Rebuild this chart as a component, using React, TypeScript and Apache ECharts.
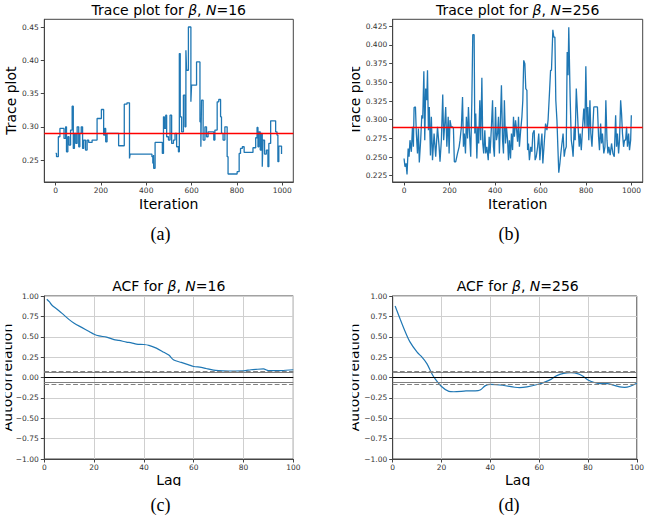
import React, { useEffect, useRef } from "react";
import * as echarts from "echarts";

// ---- Trace plot, N=16 (piecewise-constant chain: change points) ----
const traceAIter = [0, 4, 12, 19, 37, 44, 48, 54, 59, 66, 73, 78, 83, 89, 95, 102, 107, 113, 119, 124, 132, 139, 146, 161, 183, 202, 212, 217, 221, 227, 278, 303, 315, 326, 329, 425, 429, 432, 433, 439, 471, 476, 480, 486, 490, 498, 505, 512, 520, 527, 534, 542, 546, 550, 556, 564, 571, 575, 578, 586, 597, 600, 622, 637, 641, 644, 651, 659, 666, 673, 698, 703, 713, 720, 728, 732, 739, 747, 757, 761, 801, 810, 816, 824, 832, 871, 883, 889, 893, 897, 903, 908, 912, 915, 922, 930, 937, 941, 949, 971, 977, 981, 985, 997, 999];
const traceAVal = [0.26, 0.255, 0.285, 0.2975, 0.2825, 0.3, 0.2625, 0.285, 0.2725, 0.295, 0.331, 0.2675, 0.29, 0.275, 0.3, 0.27, 0.29, 0.3, 0.2675, 0.28, 0.265, 0.28, 0.2765, 0.28, 0.3125, 0.326, 0.2875, 0.2975, 0.2775, 0.29, 0.2715, 0.334, 0.336, 0.2525, 0.259, 0.255, 0.245, 0.2575, 0.2375, 0.2765, 0.26, 0.315, 0.2975, 0.3175, 0.285, 0.28, 0.3175, 0.275, 0.28, 0.29, 0.27, 0.2625, 0.41, 0.315, 0.2925, 0.3475, 0.3, 0.415, 0.385, 0.45, 0.3375, 0.3625, 0.3975, 0.3075, 0.27, 0.34, 0.28, 0.3, 0.285, 0.2925, 0.28, 0.295, 0.3375, 0.341, 0.315, 0.29, 0.28, 0.3, 0.255, 0.229, 0.2325, 0.26, 0.2675, 0.27, 0.2615, 0.2685, 0.2835, 0.299, 0.27, 0.2925, 0.265, 0.29, 0.24, 0.28, 0.259, 0.265, 0.24, 0.275, 0.309, 0.2925, 0.2875, 0.2475, 0.271, 0.259, 0.259];
const meanA = 0.2865;

// ---- Trace plot, N=256 ----
const traceBIter = [0, 4, 9, 13, 18, 22, 26, 32, 37, 41, 44, 50, 54, 59, 63, 67, 73, 78, 82, 87, 91, 95, 100, 103, 107, 111, 116, 120, 125, 132, 139, 147, 154, 158, 164, 170, 174, 179, 183, 188, 194, 198, 202, 207, 213, 217, 221, 227, 235, 242, 246, 252, 257, 261, 265, 270, 274, 279, 283, 287, 293, 298, 302, 308, 311, 315, 320, 324, 328, 333, 337, 342, 346, 350, 355, 359, 364, 370, 374, 378, 384, 389, 393, 397, 402, 406, 411, 415, 419, 424, 428, 433, 437, 441, 446, 450, 455, 459, 463, 468, 472, 477, 481, 485, 490, 494, 499, 503, 507, 512, 518, 522, 526, 531, 535, 540, 543, 547, 551, 557, 562, 566, 572, 576, 581, 587, 592, 597, 601, 606, 610, 616, 622, 628, 633, 639, 644, 648, 654, 658, 663, 667, 672, 676, 680, 685, 689, 694, 699, 704, 708, 713, 717, 721, 724, 727, 730, 735, 739, 743, 748, 752, 757, 761, 765, 770, 774, 779, 784, 790, 795, 799, 804, 808, 812, 817, 821, 826, 830, 834, 840, 846, 850, 855, 859, 864, 868, 872, 878, 883, 887, 892, 896, 900, 906, 912, 918, 924, 930, 934, 938, 943, 947, 952, 956, 960, 965, 969, 974, 978, 982, 987, 991, 996, 999];
const traceBVal = [0.2481, 0.237, 0.2415, 0.2268, 0.2615, 0.2504, 0.2726, 0.257, 0.2904, 0.2637, 0.3162, 0.3171, 0.2815, 0.2548, 0.2882, 0.2428, 0.2726, 0.306, 0.3015, 0.3647, 0.2726, 0.3416, 0.326, 0.3661, 0.286, 0.3171, 0.2521, 0.3038, 0.2459, 0.2815, 0.2504, 0.2904, 0.2637, 0.2437, 0.2726, 0.3336, 0.2726, 0.2949, 0.3171, 0.2637, 0.3038, 0.2548, 0.2993, 0.2904, 0.2904, 0.2882, 0.2437, 0.2437, 0.2548, 0.2637, 0.2726, 0.2904, 0.3305, 0.2637, 0.2815, 0.2548, 0.3038, 0.2748, 0.3171, 0.286, 0.2504, 0.326, 0.4137, 0.4137, 0.2815, 0.3082, 0.2481, 0.2904, 0.2682, 0.326, 0.2726, 0.3563, 0.2682, 0.2548, 0.286, 0.2548, 0.2637, 0.2459, 0.2771, 0.2548, 0.2904, 0.326, 0.2637, 0.2504, 0.3171, 0.2726, 0.2815, 0.3038, 0.2548, 0.3038, 0.346, 0.2726, 0.2548, 0.326, 0.2682, 0.2904, 0.2726, 0.2459, 0.2726, 0.2481, 0.2815, 0.2593, 0.3038, 0.2771, 0.2993, 0.2882, 0.2704, 0.3038, 0.2637, 0.2837, 0.3038, 0.326, 0.3794, 0.375, 0.3416, 0.3394, 0.2593, 0.2682, 0.2459, 0.2637, 0.257, 0.2815, 0.286, 0.2459, 0.2504, 0.2637, 0.2815, 0.2459, 0.2637, 0.2815, 0.2415, 0.2682, 0.2949, 0.286, 0.2993, 0.3349, 0.3661, 0.3661, 0.4204, 0.4106, 0.4106, 0.326, 0.2993, 0.2637, 0.229, 0.2415, 0.2548, 0.2682, 0.2815, 0.2504, 0.2593, 0.2637, 0.3905, 0.3594, 0.4239, 0.4239, 0.3305, 0.2726, 0.2637, 0.2504, 0.2904, 0.2726, 0.3416, 0.3171, 0.2904, 0.2637, 0.2815, 0.2593, 0.286, 0.315, 0.2904, 0.3714, 0.2904, 0.3171, 0.2726, 0.326, 0.2815, 0.2637, 0.2904, 0.3171, 0.3171, 0.3171, 0.3171, 0.2771, 0.2593, 0.2949, 0.2682, 0.2815, 0.2548, 0.2637, 0.326, 0.2726, 0.2548, 0.2637, 0.2526, 0.2682, 0.2548, 0.2504, 0.306, 0.2637, 0.2815, 0.2548, 0.2726, 0.326, 0.3082, 0.2815, 0.2637, 0.2726, 0.2726, 0.2904, 0.2637, 0.2815, 0.2593, 0.2726, 0.306];
const meanB = 0.2855;

// ---- ACF, N=16 ----
const acfLags16 = [1, 2, 3, 5, 7, 10, 12, 15, 18, 20, 22, 25, 28, 30, 33, 35, 37, 40, 42, 45, 48, 50, 52, 55, 58, 60, 63, 65, 68, 70, 75, 80, 83, 85, 88, 90, 95, 100];
const acf16 = [0.96, 0.93, 0.89, 0.84, 0.79, 0.71, 0.665, 0.615, 0.565, 0.53, 0.51, 0.495, 0.465, 0.455, 0.435, 0.425, 0.41, 0.405, 0.395, 0.36, 0.31, 0.275, 0.215, 0.185, 0.155, 0.135, 0.125, 0.11, 0.09, 0.085, 0.08, 0.082, 0.095, 0.1, 0.105, 0.085, 0.085, 0.095];

// ---- ACF, N=256 ----
const acfLags256 = [1, 3, 5, 7, 10, 12, 14, 16, 17, 20, 23, 25, 30, 35, 36, 38, 40, 45, 50, 52, 55, 60, 62, 65, 67, 70, 73, 76, 78, 80, 83, 85, 88, 90, 93, 95, 97, 100];
const acf256 = [0.877, 0.72, 0.57, 0.44, 0.31, 0.25, 0.17, 0.05, 0.0, -0.11, -0.17, -0.175, -0.165, -0.16, -0.15, -0.1, -0.085, -0.095, -0.12, -0.125, -0.115, -0.08, -0.06, -0.02, 0.02, 0.05, 0.058, 0.045, 0.015, -0.03, -0.065, -0.075, -0.075, -0.09, -0.115, -0.12, -0.11, -0.07];

// confidence bands (95% solid, 99% dashed)
const z95 = 0.062;
const z99 = 0.0815;

// tick labels
const traceXTicks = [0, 200, 400, 600, 800, 1000];
const traceATicks = [0.25, 0.3, 0.35, 0.4, 0.45];
const traceBTicks = [0.225, 0.25, 0.275, 0.3, 0.325, 0.35, 0.375, 0.4, 0.425];

const FONT = "DejaVu Sans";
const SERIF = "Liberation Serif";
const BLUE = "#1f77b4";
const SPINE = "#444";

const G = [
  { left: 44.3, top: 19.3, width: 249, height: 162.7 },
  { left: 392.7, top: 19.3, width: 250, height: 162.7 },
  { left: 44.3, top: 296, width: 249, height: 163 },
  { left: 392.7, top: 296, width: 250, height: 163 },
];

const tickLabel = { fontSize: 7.5, color: "#333", fontFamily: FONT };
const minusFmt = (d: number) => (v: number) => (v < 0 ? "\u2212" + Math.abs(v).toFixed(d) : v.toFixed(d));
const intFmt = (v: number) => String(Math.round(v));

function traceX(i: number) {
  return {
    gridIndex: i,
    type: "value",
    min: -49.95,
    max: 1048.95,
    axisLine: { show: true, onZero: false, lineStyle: { color: SPINE, width: 1 } },
    axisTick: { show: true, length: 3.5, lineStyle: { color: SPINE }, customValues: traceXTicks },
    axisLabel: { ...tickLabel, margin: 4, customValues: traceXTicks, formatter: intFmt },
    splitLine: { show: false },
  };
}
function traceY(i: number, min: number, max: number, ticks: number[], d: number) {
  return {
    gridIndex: i,
    type: "value",
    min,
    max,
    axisLine: { show: true, onZero: false, lineStyle: { color: SPINE, width: 1 } },
    axisTick: { show: true, length: 3.5, lineStyle: { color: SPINE }, customValues: ticks },
    axisLabel: { ...tickLabel, margin: 5.5, customValues: ticks, formatter: minusFmt(d) },
    splitLine: { show: false },
  };
}
const gridLine = { show: true, lineStyle: { color: "#cfcfcf", width: 1 } };
function acfX(i: number) {
  return {
    gridIndex: i,
    type: "value",
    min: 0,
    max: 100,
    interval: 20,
    axisLine: { show: true, onZero: false, lineStyle: { color: SPINE, width: 1 } },
    axisTick: { show: true, length: 3.5, lineStyle: { color: SPINE } },
    axisLabel: { ...tickLabel, margin: 4, formatter: intFmt },
    splitLine: gridLine,
  };
}
function acfY(i: number) {
  return {
    gridIndex: i,
    type: "value",
    min: -1,
    max: 1,
    interval: 0.25,
    axisLine: { show: true, onZero: false, lineStyle: { color: SPINE, width: 1 } },
    axisTick: { show: true, length: 3.5, lineStyle: { color: SPINE } },
    axisLabel: { ...tickLabel, margin: 5.5, formatter: minusFmt(2) },
    splitLine: gridLine,
  };
}

function redLine(v: number) {
  return {
    silent: true,
    symbol: ["none", "none"],
    label: { show: false },
    lineStyle: { color: "#ff0000", width: 1.3, type: "solid" },
    data: [{ yAxis: v }],
  };
}
function bands() {
  const gray = "#808080";
  return {
    silent: true,
    symbol: ["none", "none"],
    label: { show: false },
    data: [
      { yAxis: z99, lineStyle: { color: gray, width: 1.2, type: "dashed" } },
      { yAxis: -z99, lineStyle: { color: gray, width: 1.2, type: "dashed" } },
      { yAxis: z95, lineStyle: { color: gray, width: 1, type: "solid" } },
      { yAxis: -z95, lineStyle: { color: gray, width: 1, type: "solid" } },
      { yAxis: 0, lineStyle: { color: "#000", width: 1.2, type: "solid" } },
    ],
  };
}

function zip(xs: number[], ys: number[]) {
  return xs.map((x, i) => [x, ys[i]]);
}

function title(x: number, y: number, text: string) {
  return {
    type: "text",
    x,
    y,
    z: 50,
    style: {
      text,
      fill: "#000",
      fontSize: 14,
      fontFamily: FONT,
      align: "center",
      verticalAlign: "middle",
      rich: {
        n: { fontSize: 14, fontFamily: FONT, fill: "#000" },
        i: { fontSize: 14, fontFamily: FONT, fontStyle: "italic", fill: "#000" },
      },
    },
  };
}
function label(x: number, y: number, text: string, rot = false) {
  return {
    type: "text",
    x,
    y,
    rotation: rot ? Math.PI / 2 : 0,
    z: 50,
    style: { text, fill: "#000", fontSize: 14, fontFamily: FONT, align: "center", verticalAlign: "middle" },
  };
}
function caption(x: number, y: number, text: string) {
  return {
    type: "text",
    x,
    y,
    z: 50,
    style: { text, fill: "#000", fontSize: 18, fontFamily: SERIF, align: "center", verticalAlign: "middle" },
  };
}
function mask(x: number, y: number, w: number, h: number) {
  return { type: "rect", z: 100, shape: { x, y, width: w, height: h }, style: { fill: "#fff" } };
}

export default function App() {
  const ref = useRef<HTMLDivElement>(null);
  useEffect(() => {
    if (!ref.current) return;
    const chart = echarts.init(ref.current, undefined, { renderer: "svg" });
    const cx = G.map((g) => g.left + g.width / 2);
    const cyTop = G[0].top + G[0].height / 2;
    const cyBot = G[2].top + G[2].height / 2;
    chart.setOption({
      animation: false,
      backgroundColor: "#fff",
      grid: G.map((g) => ({ ...g, show: true, borderColor: SPINE, borderWidth: 1, backgroundColor: "transparent", containLabel: false })),
      xAxis: [traceX(0), traceX(1), acfX(2), acfX(3)],
      yAxis: [
        traceY(0, 0.217, 0.4616, traceATicks, 2),
        traceY(1, 0.2166, 0.4344, traceBTicks, 3),
        acfY(2),
        acfY(3),
      ],
      series: [
        {
          type: "line",
          xAxisIndex: 0,
          yAxisIndex: 0,
          data: zip(traceAIter, traceAVal),
          step: "end",
          symbol: "none",
          lineStyle: { color: BLUE, width: 1.3 },
          markLine: redLine(meanA),
        },
        {
          type: "line",
          xAxisIndex: 1,
          yAxisIndex: 1,
          data: zip(traceBIter, traceBVal),
          symbol: "none",
          lineStyle: { color: BLUE, width: 1.3 },
          markLine: redLine(meanB),
        },
        {
          type: "line",
          xAxisIndex: 2,
          yAxisIndex: 2,
          data: zip(acfLags16, acf16),
          smooth: 0.3,
          symbol: "none",
          lineStyle: { color: BLUE, width: 1.2 },
          markLine: bands(),
        },
        {
          type: "line",
          xAxisIndex: 3,
          yAxisIndex: 3,
          data: zip(acfLags256, acf256),
          smooth: 0.3,
          symbol: "none",
          lineStyle: { color: BLUE, width: 1.2 },
          markLine: bands(),
        },
      ],
      graphic: [
        title(cx[0], 9.5, "{n|Trace plot for }{i|β}{n|, }{i|N}{n|=16}"),
        title(cx[1], 9.5, "{n|Trace plot for }{i|β}{n|, }{i|N}{n|=256}"),
        title(cx[2], 286, "{n|ACF for }{i|β}{n|, }{i|N}{n|=16}"),
        title(cx[3], 286, "{n|ACF for }{i|β}{n|, }{i|N}{n|=256}"),
        label(cx[0], 203.5, "Iteration"),
        label(cx[1], 203.5, "Iteration"),
        label(cx[2], 479.5, "Lag"),
        label(cx[3], 479.5, "Lag"),
        label(10.5, cyTop, "Trace plot", true),
        label(355, cyTop, "Trace plot", true),
        label(6.5, cyBot, "Autocorrelation", true),
        label(354, cyBot, "Autocorrelation", true),
        caption(160.5, 234, "(a)"),
        caption(509, 234, "(b)"),
        caption(160.5, 504.5, "(c)"),
        caption(509, 504.5, "(d)"),
        mask(330, 30, 22, 150),
        mask(330, 300, 22.5, 160),
        mask(0, 300, 5.5, 160),
        mask(140, 486, 60, 8),
        mask(490, 486, 60, 8),
      ],
    });
    return () => chart.dispose();
  }, []);
  return <div ref={ref} style={{ position: "absolute", left: 0, top: 0, width: 647, height: 526 }} />;
}
